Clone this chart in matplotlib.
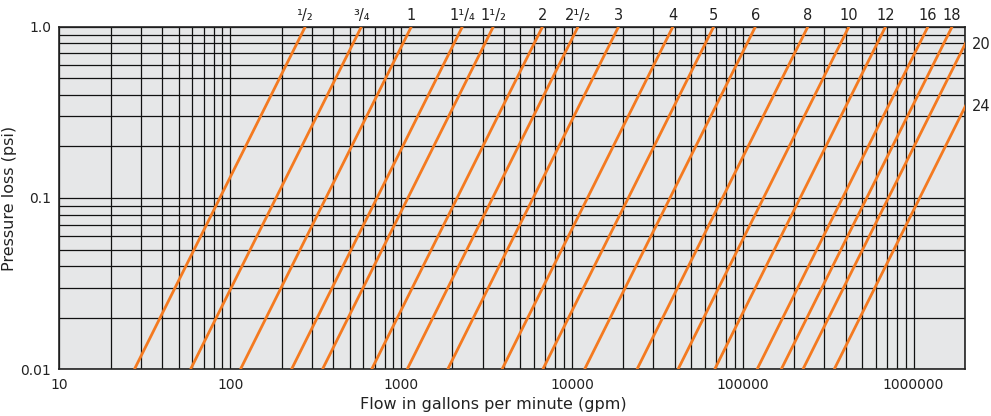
import numpy as np
import matplotlib
matplotlib.use("Agg")
import matplotlib.pyplot as plt
import matplotlib.transforms as mtransforms

# pipe sizes (inches) and flow (gpm) where each line crosses 0.01 psi and 1.0 psi
sizes = ["¹/₂", "³/₄", "1", "1¹/₄", "1¹/₂", "2", "2¹/₂", "3", "4", "5", "6",
         "8", "10", "12", "16", "18", "20", "24"]
flow_at_1psi = [275, 586, 1148, 2285, 3467, 6730, 10860, 18750, 39000, 67600,
                118600, 240400, 418000, 685000, 1213000, 1680000, 2250000, 3430000]
flow_at_001psi = [27.5, 58.6, 114.8, 228.5, 346.7, 673, 1086, 1875, 3900, 6760,
                  11860, 24040, 41800, 68500, 121300, 168000, 225000, 343000]
side_labels = ["20", "24"]   # sizes whose lines leave through the right edge

x_ticks = [10, 100, 1000, 10000, 100000, 1000000]
y_ticks = [0.01, 0.1, 1.0]

plt.rcParams['font.family'] = ['DejaVu Sans']

fig = plt.figure(figsize=(9.91, 4.16), dpi=100)
ax = fig.add_axes([0.0599, 0.1123, 0.9139, 0.8235])
ax.set_facecolor('#e6e7e8')

ax.set_xscale('log')
ax.set_yscale('log')
xmin, xmax = 10, 2000000
ax.set_xlim(xmin, xmax)
ax.set_ylim(0.01, 1.0)

# grid: every 1..9 of each decade
ax.grid(True, which='both', color='#111111', linewidth=0.9)
ax.set_axisbelow(True)

orange = '#f47a20'
for lo, hi in zip(flow_at_001psi, flow_at_1psi):
    ax.plot([lo, hi], [0.01, 1.0], color=orange, linewidth=2.0,
            solid_capstyle='butt', zorder=3)

# size labels on top
trans_top = mtransforms.blended_transform_factory(ax.transData, ax.transAxes)
for s, hi in zip(sizes, flow_at_1psi):
    if s in side_labels:
        continue
    ax.text(hi, 1.012, s, transform=trans_top, ha='center', va='bottom',
            fontsize=10.5, color='#222222')

# labels at the right edge for the large sizes
trans_right = mtransforms.blended_transform_factory(ax.transAxes, ax.transData)
for s, lo, hi in zip(sizes, flow_at_001psi, flow_at_1psi):
    if s not in side_labels:
        continue
    slope = (np.log10(1.0) - np.log10(0.01)) / (np.log10(hi) - np.log10(lo))
    y_edge = 10 ** (np.log10(0.01) + slope * (np.log10(xmax) - np.log10(lo)))
    ax.text(1.008, y_edge, s, transform=trans_right, ha='left', va='center',
            fontsize=10.5, color='#222222')

ax.set_xticks(x_ticks)
ax.set_xticklabels([str(v) for v in x_ticks])
ax.set_yticks(y_ticks)
ax.set_yticklabels(['0.01', '0.1', '1.0'])
ax.tick_params(which='both', length=0, labelsize=10, colors='#222222', pad=6)
ax.minorticks_on()
ax.tick_params(which='minor', length=0, labelbottom=False, labelleft=False)
ax.xaxis.set_minor_formatter(plt.NullFormatter())
ax.yaxis.set_minor_formatter(plt.NullFormatter())

for sp in ax.spines.values():
    sp.set_color('#222222')
    sp.set_linewidth(1.2)

ax.set_xlabel('Flow in gallons per minute (gpm)', fontsize=11.5, color='#222222')
ax.set_ylabel('Pressure loss (psi)', fontsize=11.5, color='#222222')
ax.xaxis.set_label_coords(0.479, -0.08)
ax.yaxis.set_label_coords(-0.047, 0.5)

fig.savefig('out.png', dpi=100)
